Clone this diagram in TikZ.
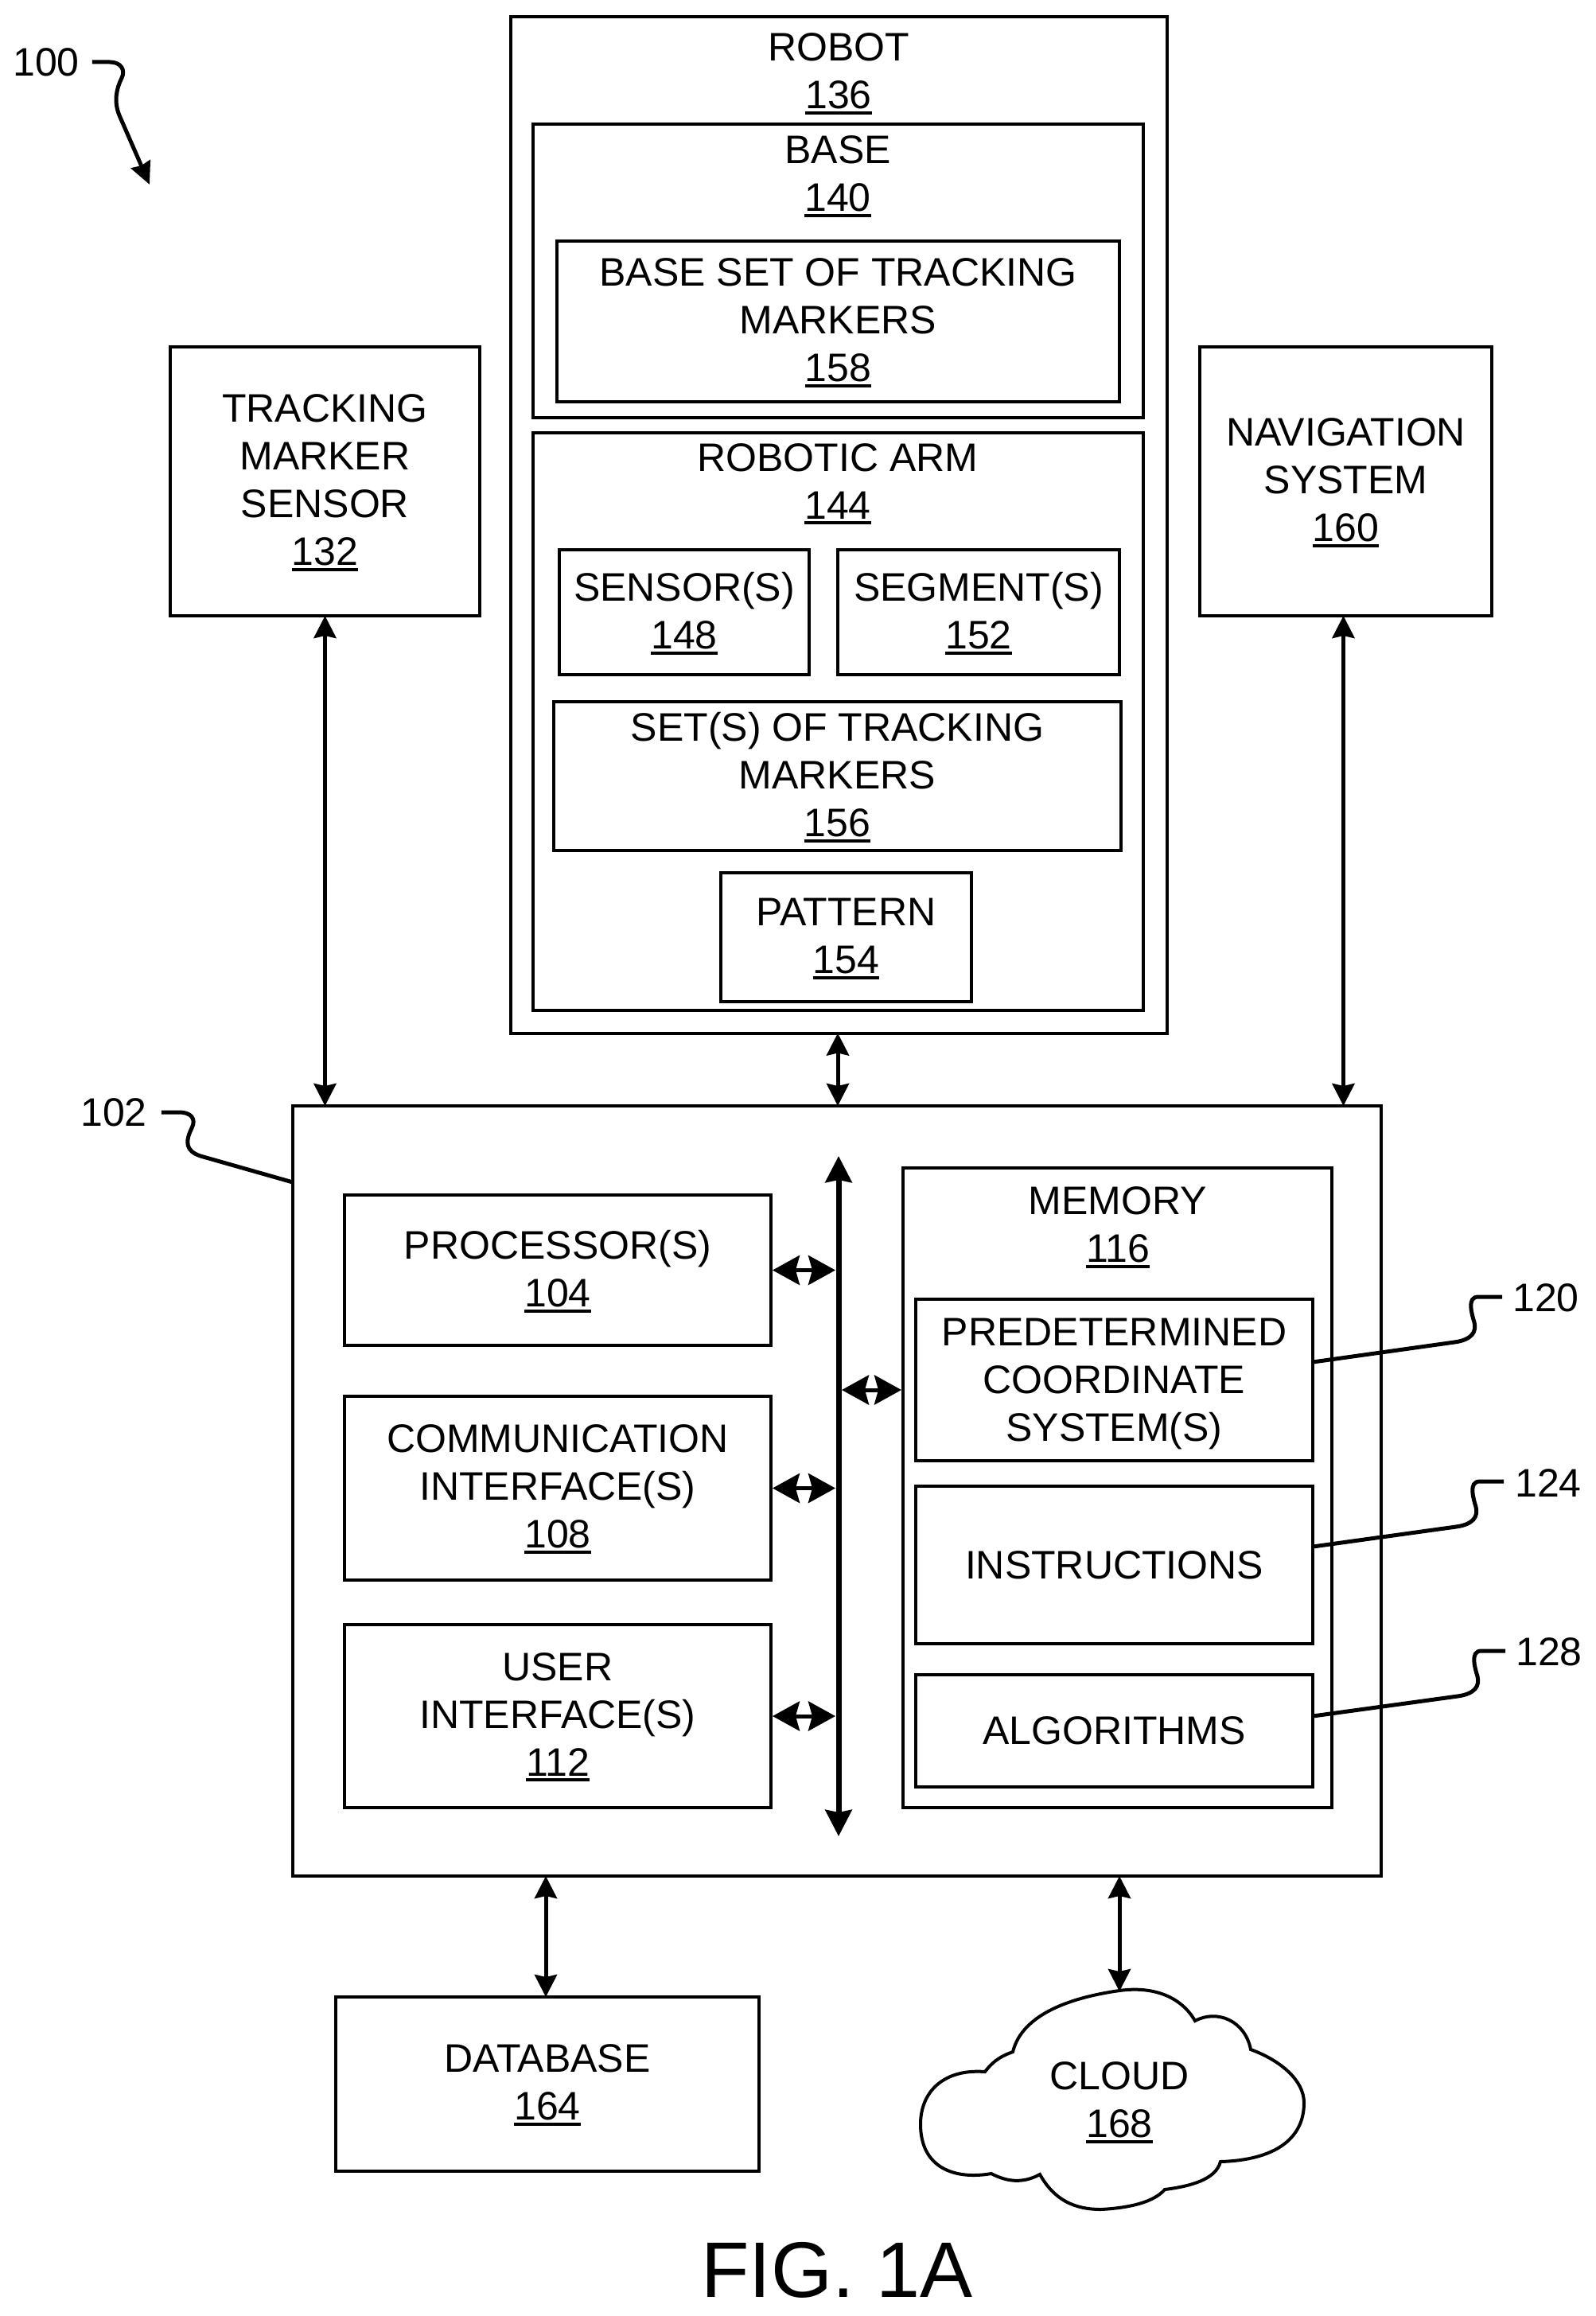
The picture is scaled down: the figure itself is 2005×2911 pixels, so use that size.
\documentclass[tikz,border=0pt]{standalone}
\usepackage{fontspec}
\setmainfont{Liberation Sans}
\usetikzlibrary{arrows.meta}
\newcommand{\refnum}[1]{\smash{\vtop{\hbox{#1}\kern3pt\hrule height 4pt}}\rule[-4pt]{0pt}{4pt}}
\tikzset{
    box/.style={draw, line width=4pt, inner sep=0pt, outer sep=0pt, align=center, font=\fontsize{50}{60}\selectfont},
    caption/.style={inner sep=0pt, align=center, font=\fontsize{50}{60}\selectfont},
    reflabel/.style={inner sep=0pt, font=\fontsize{50}{60}\selectfont},
    link/.style={line width=5pt, {Stealth[length=28pt,width=28pt,inset=3pt]}-{Stealth[length=28pt,width=28pt,inset=3pt]}},
    buslink/.style={line width=5pt, {Stealth[length=34pt,width=37pt,inset=5pt]}-{Stealth[length=34pt,width=37pt,inset=5pt]}},
    leader/.style={line width=5pt}
}
\begin{document}
\begin{tikzpicture}[x=1pt, y=-1pt]
    \useasboundingbox (0, 0) rectangle (2005, 2911);

    % Sensor and navigation at the sides
    \node[box, minimum width=389pt, minimum height=338pt] (sensorbox) at (408.5, 605) {TRACKING\\MARKER\\SENSOR\\\refnum{132}};
    \node[box, minimum width=367pt, minimum height=338pt] (navbox) at (1691.5, 605) {NAVIGATION\\SYSTEM\\\refnum{160}};

    % Robot with its nested boxes
    \node[box, minimum width=825pt, minimum height=1277pt] (robot) at (1054.5, 660) {};
    \node[caption] (robotcap) at (1054, 91) {ROBOT\\\refnum{136}};
    \node[box, minimum width=767pt, minimum height=369pt] (base) at (1053.5, 340.5) {};
    \node[caption] (basecap) at (1053, 220) {BASE\\\refnum{140}};
    \node[box, minimum width=707pt, minimum height=202pt] (baseset) at (1053.5, 404) {BASE SET OF TRACKING\\MARKERS\\\refnum{158}};
    \node[box, minimum width=767pt, minimum height=726pt] (arm) at (1053.5, 907) {};
    \node[caption] (armcap) at (1053, 607) {ROBOTIC ARM\\\refnum{144}};
    \node[box, minimum width=314pt, minimum height=157pt] (armsensor) at (860, 769.5) {SENSOR(S)\\\refnum{148}};
    \node[box, minimum width=354pt, minimum height=157pt] (segment) at (1230, 769.5) {SEGMENT(S)\\\refnum{152}};
    \node[box, minimum width=713pt, minimum height=187pt] (armset) at (1052.5, 975.5) {SET(S) OF TRACKING\\MARKERS\\\refnum{156}};
    \node[box, minimum width=315pt, minimum height=162pt] (pattern) at (1063.5, 1178) {PATTERN\\\refnum{154}};

    % Computing device
    \node[box, minimum width=1368pt, minimum height=968pt] (comp) at (1052, 1874) {};
    \node[box, minimum width=536pt, minimum height=189pt] (proc) at (701, 1596.5) {PROCESSOR(S)\\\refnum{104}};
    \node[box, minimum width=536pt, minimum height=231pt] (comm) at (701, 1870.5) {COMMUNICATION\\INTERFACE(S)\\\refnum{108}};
    \node[box, minimum width=536pt, minimum height=230pt] (user) at (701, 2157) {USER\\INTERFACE(S)\\\refnum{112}};
    \node[box, minimum width=539pt, minimum height=804pt] (mem) at (1404, 1870) {};
    \node[caption] (memcap) at (1405, 1541) {MEMORY\\\refnum{116}};
    \node[box, minimum width=499pt, minimum height=203pt] (pre) at (1400.5, 1734.5) {\rule{0pt}{45pt}PREDETERMINED\\COORDINATE\\SYSTEM(S)};
    \node[box, minimum width=499pt, minimum height=198pt] (ins) at (1400.5, 1967) {INSTRUCTIONS};
    \node[box, minimum width=499pt, minimum height=141pt] (alg) at (1400.5, 2175.5) {ALGORITHMS};

    % Database and cloud
    \node[box, minimum width=532pt, minimum height=219pt] (db) at (688, 2619.5) {DATABASE\\\refnum{164}};
    \draw[line width=4pt] (1238, 2604) .. controls (1250, 2588) and (1262, 2583) .. (1273, 2579)
        .. controls (1285, 2530) and (1350, 2510) .. (1407, 2502)
        .. controls (1450, 2496) and (1485, 2510) .. (1502, 2540)
        .. controls (1530, 2525) and (1565, 2540) .. (1572, 2576)
        .. controls (1610, 2590) and (1639, 2615) .. (1639, 2643)
        .. controls (1639, 2690) and (1600, 2715) .. (1534, 2717)
        .. controls (1528, 2740) and (1495, 2748) .. (1464, 2752)
        .. controls (1450, 2768) and (1420, 2775) .. (1384, 2777)
        .. controls (1350, 2777) and (1325, 2765) .. (1307, 2733)
        .. controls (1285, 2745) and (1265, 2742) .. (1246, 2732)
        .. controls (1200, 2740) and (1157, 2725) .. (1157, 2670)
        .. controls (1157, 2630) and (1185, 2600) .. cycle;
    \node[caption] (cloud) at (1407, 2641) {CLOUD\\\refnum{168}};
    \coordinate (cloudtop) at (1407, 2503);

    % Links between the boxes
    \draw[link] (sensorbox.south) -- (sensorbox.south |- comp.north);
    \draw[link] ([xshift=-3pt]navbox.south) -- ([xshift=-3pt]navbox.south |- comp.north);
    \draw[link] ([xshift=-1.5pt]robot.south) -- ([xshift=-1.5pt]robot.south |- comp.north);
    \draw[link] ([xshift=-2pt]db.north) -- ([xshift=-2pt]db.north |- comp.south);
    \draw[link] (cloudtop) -- (cloudtop |- comp.south);

    % Bus inside the computing device
    \coordinate (bustop) at (1054, 1453);
    \coordinate (busbot) at (1054, 2308);
    \draw[line width=7pt, {Stealth[length=33pt,width=33pt,inset=3pt]}-{Stealth[length=33pt,width=33pt,inset=3pt]}] (bustop) -- (busbot);
    \foreach \part in {proc, comm, user}
        \draw[buslink, shorten >=4pt, shorten <=2pt] (\part.east) -- (\part.east -| bustop);
    \coordinate (memport) at (1133, 1747);
    \draw[buslink, shorten >=4pt] (memport) -- (memport -| bustop);

    % Reference numbers with their leaders
    \node[reflabel] (ref100) at (58, 78) {100};
    \coordinate (tip100) at (188, 232);
    \draw[leader, -{Stealth[length=28pt,width=26pt,inset=2pt]}] (ref100.east) ++(16, 0) -- (138, 78)
        .. controls (152, 78) and (158, 88) .. (153, 98)
        .. controls (146, 112) and (143, 128) .. (150, 145) -- (tip100);

    \node[reflabel] (ref102) at (143, 1398) {102};
    \draw[leader] (ref102.east) ++(18, 0) -- (225, 1398)
        .. controls (240, 1398) and (247, 1406) .. (241, 1418)
        .. controls (232, 1436) and (234, 1447) .. (252, 1453) -- (comp.west |- 0, 1486);

    \foreach \boxname/\refno/\lx/\tx/\ty/\ly in {pre/120/178/1943/1631/1712, ins/124/180/1946/1864/1944, alg/128/182/1947/2076/2157} {
        \node[reflabel] (ref\refno) at (\tx, \ty) {\refno};
        \draw[leader] (\boxname.east |- 0, \ly) -- ++(\lx, -25)
            .. controls +(22, -3) and +(3, 12) .. ++(25, -25)
            .. controls +(-3, -10) and +(-15, 0) .. ++(5, -32) -- ++(30, 0);
    }

    % Figure title
    \node[inner sep=0pt, font=\fontsize{99}{110}\selectfont] (figtitle) at (1052, 2853) {FIG. 1A};
\end{tikzpicture}
\end{document}
